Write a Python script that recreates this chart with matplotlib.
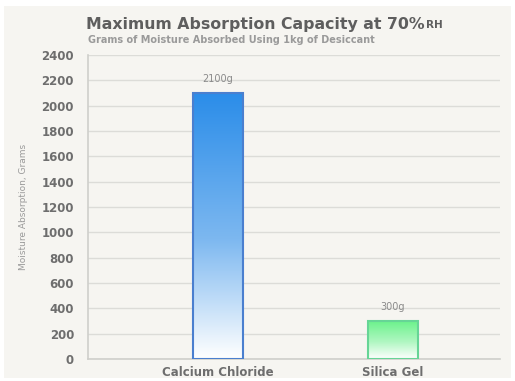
import numpy as np
import matplotlib.pyplot as plt
from matplotlib.colors import LinearSegmentedColormap
from matplotlib.patches import Rectangle

categories = ["Calcium Chloride", "Silica Gel"]
values = [2100, 300]
value_labels = ["2100g", "300g"]
yticks = list(range(0, 2401, 200))

top_colors = ["#2b8de9", "#6cf28c"]
mid_colors = ["#7db8f0", "#b0f7c2"]
edge_colors = ["#4a7fcf", "#66d596"]

fig = plt.figure(figsize=(5.15, 3.81), dpi=100)
fig.patch.set_facecolor("white")
fig.add_artist(Rectangle((0.008, 0.008), 0.984, 0.975, transform=fig.transFigure,
                         facecolor="#f6f5f1", edgecolor="none", zorder=-10))

ax = fig.add_axes([88 / 515, 22 / 381, 412 / 515, 304 / 381])
ax.set_facecolor("none")

# gradient bars: imshow clipped to the bar rectangle
width = 0.286
for i, v in enumerate(values):
    cmap = LinearSegmentedColormap.from_list(
        "g", [(0, "white"), (0.45, mid_colors[i]), (1, top_colors[i])])
    grad = np.linspace(0, 1, 256).reshape(-1, 1)
    im = ax.imshow(grad, cmap=cmap, aspect="auto", origin="lower",
                   extent=[i - width / 2, i + width / 2, 0, v], zorder=3)
    bar = ax.bar(i, v, width=width, facecolor="none", edgecolor=edge_colors[i],
                 linewidth=1.5, zorder=4)[0]
    im.set_clip_path(bar)
    ax.text(i, v + 70, value_labels[i], ha="center", va="bottom",
            fontsize=7, color="#8a8a8a")

ax.set_xlim(-0.743, 1.611)
ax.set_ylim(0, 2400)
ax.set_yticks(yticks)
ax.set_xticks(range(len(categories)))
ax.set_xticklabels(categories)
ax.tick_params(axis="both", length=0, colors="#6e6e6e", labelsize=8.5)
for lab in ax.get_xticklabels() + ax.get_yticklabels():
    lab.set_fontweight("bold")
ax.tick_params(axis="y", pad=10)
ax.tick_params(axis="x", pad=5)
ax.grid(axis="y", color="#dcdcd8", linewidth=1, zorder=0)
ax.set_axisbelow(True)
for s in ["top", "right"]:
    ax.spines[s].set_visible(False)
for s in ["left", "bottom"]:
    ax.spines[s].set_color("#cfcfcb")
    ax.spines[s].set_linewidth(1.2)

ax.set_ylabel("Moisture Absorption, Grams", fontsize=6.5, color="#9a9a9a", labelpad=10)

title = fig.text(86 / 515, 1 - 24 / 381, "Maximum Absorption Capacity at 70%",
                 fontsize=11.3, fontweight="bold", color="#5e5e5e", va="center")
ax.annotate("RH", xy=(1, 0.12), xycoords=title, xytext=(1, 0), textcoords="offset points",
            fontsize=7.5, fontweight="bold", color="#5e5e5e", va="bottom", ha="left",
            annotation_clip=False)
fig.text(88 / 515, 1 - 40 / 381, "Grams of Moisture Absorbed Using 1kg of Desiccant",
         fontsize=7, fontweight="bold", color="#9a9a9a", va="center")

fig.savefig("out.png", dpi=100)
